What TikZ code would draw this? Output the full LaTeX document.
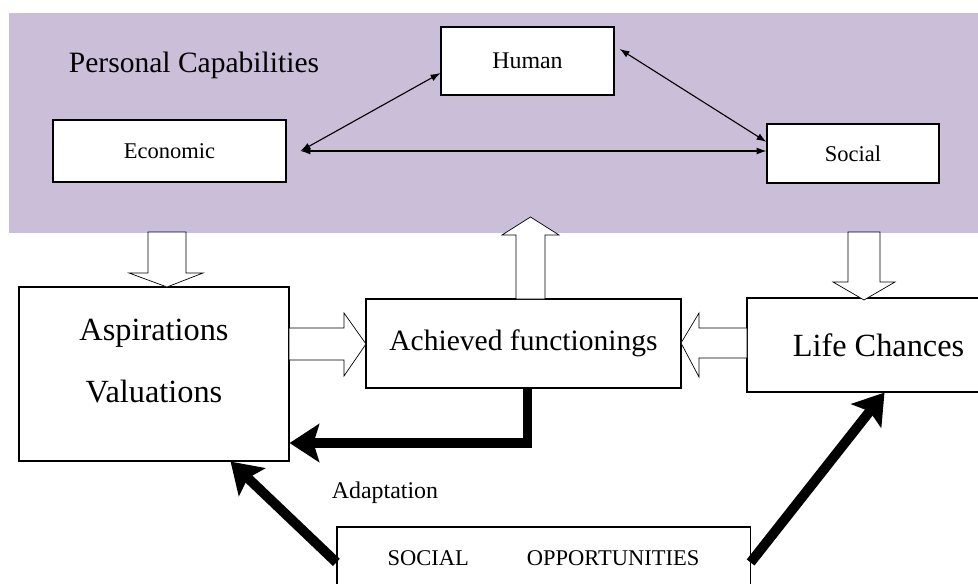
\documentclass[tikz,border=0pt]{standalone}
\usepackage{fontspec}
\setmainfont{Liberation Serif}
\usepackage{tikz}
\usetikzlibrary{arrows.meta}

\definecolor{capband}{RGB}{203,190,217}

\tikzset{
  box/.style={draw, fill=white, line width=0.8pt, inner sep=0pt},
  hollow/.style={draw, fill=white, line width=0.5pt, line join=miter},
  thin link/.style={{Latex[length=7pt,width=5pt]}-{Latex[length=7pt,width=5pt]}, line width=0.8pt},
  heavy/.style={-{Stealth[length=21pt,width=27pt,inset=4pt]}, line width=7pt, line join=miter},
}

\begin{document}
\begin{tikzpicture}[x=0.025cm, y=-0.025cm]
    \useasboundingbox (0,0) rectangle (978,584);

    % capabilities band
    \fill[capband] (9,13) rectangle (990,233);
    \node[font=\fontsize{21}{25}\selectfont]  (pc)  at (194,65)     {Personal Capabilities};
    \node[box, minimum width=4.325cm, minimum height=1.7cm, font=\fontsize{17}{20}\selectfont]    (hum) at (527.5,61)  {Human};
    \node[box, minimum width=5.825cm, minimum height=1.55cm, font=\fontsize{16}{19}\selectfont]   (eco) at (169.5,151) {Economic};
    \node[box, minimum width=4.3cm, minimum height=1.475cm, font=\fontsize{16}{19}\selectfont]    (soc) at (853,153.5) {Social};

    \draw[thin link] ([xshift=0.35cm]eco.east) -- ([yshift=-0.3cm]hum.west);
    \draw[thin link] ([xshift=0.125cm,yshift=0.3cm]hum.east) -- ([yshift=0.29cm]soc.west);
    \draw[thin link] ([xshift=0.35cm]eco.east) -- (eco.east -| soc.west);

    % outcomes row
    \node[box, minimum width=6.75cm, minimum height=4.35cm, align=center, text height=1.6cm, text depth=0.2cm, font=\fontsize{23}{27}\selectfont] (asp) at (154,374) {Aspirations\\[17pt]Valuations};
    \node[box, minimum width=7.875cm, minimum height=2.225cm, font=\fontsize{21}{25}\selectfont] (ach)  at (523.5,343.5) {Achieved functionings};
    \node[box, minimum width=6.575cm, minimum height=2.35cm, font=\fontsize{23}{27}\selectfont]  (life) at (878.5,345)   {Life Chances};

    \node[box, minimum width=10.325cm, minimum height=1.575cm, font=\fontsize{16}{19}\selectfont] (opp) at (543.5,558.5) {SOCIAL\hspace{1.45cm}OPPORTUNITIES};
    \node[font=\fontsize{17}{20}\selectfont] (adapt) at (385,493) {Adaptation};

    % hollow block arrows
    \draw[hollow] (148,232) -- (186,232) -- (186,273) -- (203,273) -- (167,287) -- (129,273) -- (148,273) -- cycle;
    \draw[hollow] (516,299) -- (545,299) -- (545,235) -- (559,235) -- (530.5,217) -- (502,235) -- (516,235) -- cycle;
    \draw[hollow] (848,232) -- (880,232) -- (880,282) -- (895,282) -- (864,300) -- (833,282) -- (848,282) -- cycle;
    \draw[hollow] (289,328) -- (344,328) -- (344,313) -- (366,344) -- (344,376) -- (344,360) -- (289,360) -- cycle;
    \draw[hollow] (747,328) -- (699,328) -- (699,313) -- (681,343) -- (699,377) -- (699,358) -- (747,358) -- cycle;

    % heavy arrows
    \draw[heavy] ([xshift=0.1cm]ach.south) |- ([yshift=-1.725cm]asp.east);
    \draw[heavy] ([yshift=-0.9cm]opp.north west) -- ([xshift=-1.475cm]asp.south east);
    \draw[heavy] ([yshift=-0.9cm]opp.north east) -- ([xshift=0.15cm]life.south);
\end{tikzpicture}
\end{document}
